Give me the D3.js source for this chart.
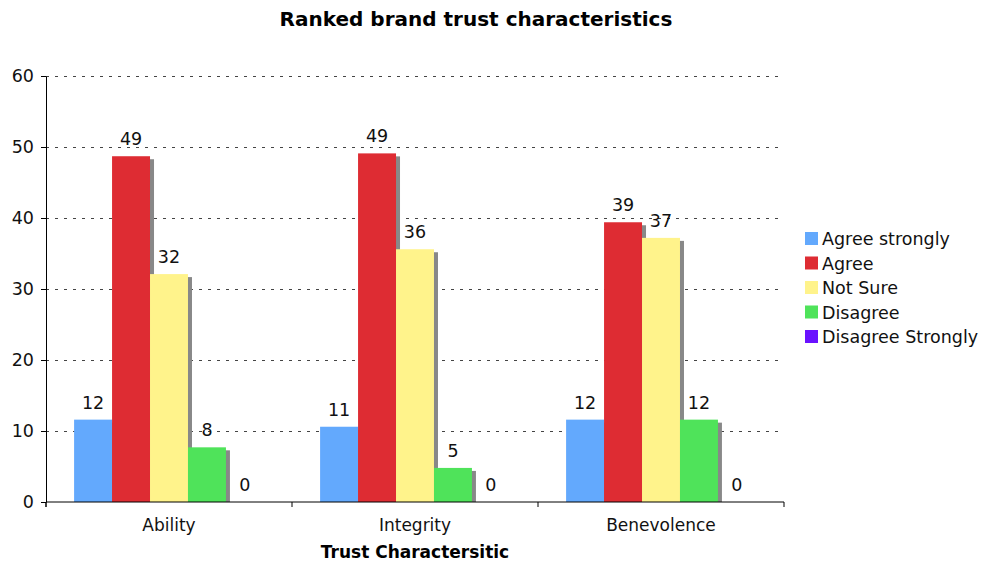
<!DOCTYPE html>
<html>
<head>
<meta charset="utf-8">
<script src="https://cdn.jsdelivr.net/npm/d3@7"></script>
<style>
  html, body { margin: 0; padding: 0; background: #fff; }
  svg { display: block; font-family: Verdana, "DejaVu Sans", sans-serif; }
</style>
</head>
<body>
<svg id="chart" width="982" height="561"></svg>
<script>
// Survey responses per trust characteristic (percent)
const categories = ["Ability", "Integrity", "Benevolence"];
const seriesNames = ["Agree strongly", "Agree", "Not Sure", "Disagree", "Disagree Strongly"];
const agreeStrongly = [11.6, 10.6, 11.6];
const agree = [48.7, 49.1, 39.4];
const notSure = [32.1, 35.6, 37.2];
const disagree = [7.7, 4.8, 11.6];
const disagreeStrongly = [0, 0, 0];
const yTicks = [0, 10, 20, 30, 40, 50, 60];
const seriesColors = ["#63a9fd", "#de2c33", "#fff38b", "#4fe35a", "#6a12ff"];

const seriesValues = [agreeStrongly, agree, notSure, disagree, disagreeStrongly];

const svg = d3.select("#chart");
const plot = { left: 46, right: 784, top: 76, bottom: 502 };

const y = d3.scaleLinear().domain([0, 60]).range([plot.bottom, plot.top]);
const x0 = d3.scaleBand().domain(categories).range([plot.left, plot.right]).padding(0);
const x1 = d3.scaleBand().domain(seriesNames).range([0, x0.bandwidth()])
  .paddingInner(0).paddingOuter(0.74);
const color = d3.scaleOrdinal().domain(seriesNames).range(seriesColors);

// Title
svg.append("text")
  .attr("x", 476).attr("y", 26)
  .attr("text-anchor", "middle")
  .attr("font-size", 20).attr("font-weight", "bold")
  .text("Ranked brand trust characteristics");

// Dashed horizontal gridlines
svg.append("g")
  .selectAll("line")
  .data(yTicks.filter(t => t > 0))
  .join("line")
  .attr("x1", plot.left).attr("x2", plot.right)
  .attr("y1", d => y(d)).attr("y2", d => y(d))
  .attr("stroke", "#444").attr("stroke-width", 1)
  .attr("stroke-dasharray", "3,6")
  .attr("shape-rendering", "crispEdges");

// Flattened bar records
const bars = [];
categories.forEach((c, ci) => {
  seriesNames.forEach((s, si) => {
    bars.push({ category: c, series: s, value: seriesValues[si][ci] });
  });
});

const barG = svg.append("g");

// Drop shadows behind the bars
barG.selectAll("rect.shadow")
  .data(bars.filter(d => d.value > 0))
  .join("rect")
  .attr("class", "shadow")
  .attr("x", d => x0(d.category) + x1(d.series) + 4)
  .attr("y", d => y(d.value) + 3)
  .attr("width", x1.bandwidth())
  .attr("height", d => y(0) - y(d.value) - 3)
  .attr("fill", "#888");

// Bars
barG.selectAll("rect.bar")
  .data(bars)
  .join("rect")
  .attr("class", "bar")
  .attr("x", d => x0(d.category) + x1(d.series))
  .attr("y", d => y(d.value))
  .attr("width", x1.bandwidth())
  .attr("height", d => y(0) - y(d.value))
  .attr("fill", d => color(d.series));

// Value labels
const fmt = d3.format(".0f");
barG.selectAll("text.value")
  .data(bars)
  .join("text")
  .attr("class", "value")
  .attr("x", d => x0(d.category) + x1(d.series) + x1.bandwidth() / 2)
  .attr("y", d => y(d.value) - 11)
  .attr("text-anchor", "middle")
  .attr("font-size", 17.5)
  .attr("fill", "#111")
  .text(d => fmt(d.value));

// Y axis
const yAxis = svg.append("g")
  .attr("transform", `translate(${plot.left},0)`)
  .call(d3.axisLeft(y).tickValues(yTicks).tickSize(5).tickSizeOuter(0).tickPadding(7));
yAxis.select(".domain").attr("stroke", "#000");
yAxis.selectAll(".tick line").attr("stroke", "#000");
yAxis.selectAll(".tick text").attr("font-size", 17.5).attr("fill", "#111")
  .attr("font-family", 'Verdana, "DejaVu Sans", sans-serif');
yAxis.append("line")
  .attr("x1", 0).attr("x2", 0)
  .attr("y1", plot.bottom).attr("y2", plot.bottom + 5)
  .attr("stroke", "#000");

// X axis with ticks on category boundaries
const xAxis = svg.append("g").attr("transform", `translate(0,${plot.bottom})`);
xAxis.append("line")
  .attr("x1", plot.left).attr("x2", plot.right)
  .attr("stroke", "#000");
const boundaries = categories.map(c => x0(c)).concat([plot.right]);
xAxis.selectAll("line.tick")
  .data(boundaries)
  .join("line")
  .attr("class", "tick")
  .attr("x1", d => d).attr("x2", d => d)
  .attr("y1", 0).attr("y2", 5)
  .attr("stroke", "#000");
xAxis.selectAll("text.cat")
  .data(categories)
  .join("text")
  .attr("class", "cat")
  .attr("x", d => x0(d) + x0.bandwidth() / 2)
  .attr("y", 29)
  .attr("text-anchor", "middle")
  .attr("font-size", 17)
  .attr("fill", "#111")
  .text(d => d);

// X axis title
svg.append("text")
  .attr("x", 415)
  .attr("y", 558)
  .attr("text-anchor", "middle")
  .attr("font-size", 17).attr("font-weight", "bold")
  .text("Trust Charactersitic");

// Legend
const legend = svg.append("g").attr("transform", "translate(805,232)");
const rows = legend.selectAll("g")
  .data(seriesNames)
  .join("g")
  .attr("transform", (d, i) => `translate(0,${i * 24.5})`);
rows.append("rect")
  .attr("width", 13).attr("height", 13)
  .attr("fill", d => color(d));
rows.append("text")
  .attr("x", 17).attr("y", 13)
  .attr("font-size", 17.5)
  .attr("fill", "#111")
  .text(d => d);
</script>
</body>
</html>
